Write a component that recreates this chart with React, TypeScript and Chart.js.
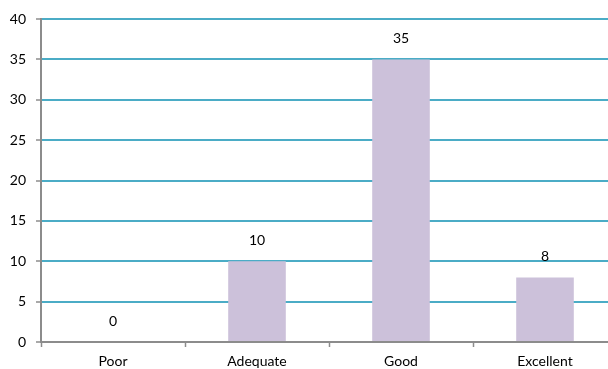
import React, { useEffect, useRef } from "react";
import { Chart, registerables } from "chart.js";

Chart.register(...registerables);

const categories = ["Poor", "Adequate", "Good", "Excellent"];
const values = [0, 10, 35, 8];
const yMin = 0;
const yMax = 40;
const yStep = 5;

const FONT = "Lato, 'Open Sans', sans-serif";
const FS = 14;

const dataLabels = {
  id: "dataLabels",
  afterDatasetsDraw(chart: any) {
    const ctx = chart.ctx;
    const meta = chart.getDatasetMeta(0);
    ctx.save();
    ctx.font = `${FS}px ${FONT}`;
    ctx.fillStyle = "#000";
    ctx.textAlign = "center";
    ctx.textBaseline = "middle";
    meta.data.forEach((el: any, i: number) => {
      const v = chart.data.datasets[0].data[i];
      ctx.fillText(String(v), el.x, el.y - 21);
    });
    ctx.restore();
  },
};

export default function App() {
  const ref = useRef<HTMLCanvasElement>(null);
  useEffect(() => {
    if (!ref.current) return;
    const chart = new Chart(ref.current, {
      type: "bar",
      data: {
        labels: categories,
        datasets: [
          {
            data: values,
            backgroundColor: "#ccc1da",
            borderWidth: 0,
            barPercentage: 0.4,
            categoryPercentage: 1,
          },
        ],
      },
      plugins: [dataLabels],
      options: {
        responsive: false,
        animation: false,
        layout: { padding: { top: 19, right: 0, left: 0, bottom: 0 } },
        plugins: { legend: { display: false }, tooltip: { enabled: false } },
        scales: {
          x: {
            afterFit(scale: any) {
              scale.height = 27;
            },
            grid: {
              display: true,
              drawOnChartArea: false,
              drawTicks: true,
              tickLength: 5,
              tickColor: "#8c8c8c",
              tickWidth: 1.5,
              offset: true,
            },
            border: { display: true, color: "#8c8c8c", width: 2 },
            ticks: {
              color: "#000",
              font: { family: FONT, size: FS },
              padding: 6,
              maxRotation: 0,
            },
          },
          y: {
            min: yMin,
            max: yMax,
            afterFit(scale: any) {
              scale.width = 41;
            },
            grid: {
              color: (c: any) => (c.tick && c.tick.value === 0 ? "rgba(0,0,0,0)" : "#4bacc6"),
              lineWidth: 2,
              drawTicks: true,
              tickLength: 5,
              tickColor: "#8c8c8c",
              tickWidth: 1.5,
            },
            border: { display: true, color: "#8c8c8c", width: 2 },
            ticks: {
              stepSize: yStep,
              color: "#000",
              font: { family: FONT, size: FS },
              padding: 10,
            },
          },
        },
      },
    });
    return () => chart.destroy();
  }, []);
  return (
    <div
      style={{
        position: "fixed",
        top: 0,
        left: 0,
        width: 608,
        height: 369,
        overflow: "hidden",
        background: "#fff",
      }}
    >
      <canvas ref={ref} width={617} height={369} />
    </div>
  );
}
